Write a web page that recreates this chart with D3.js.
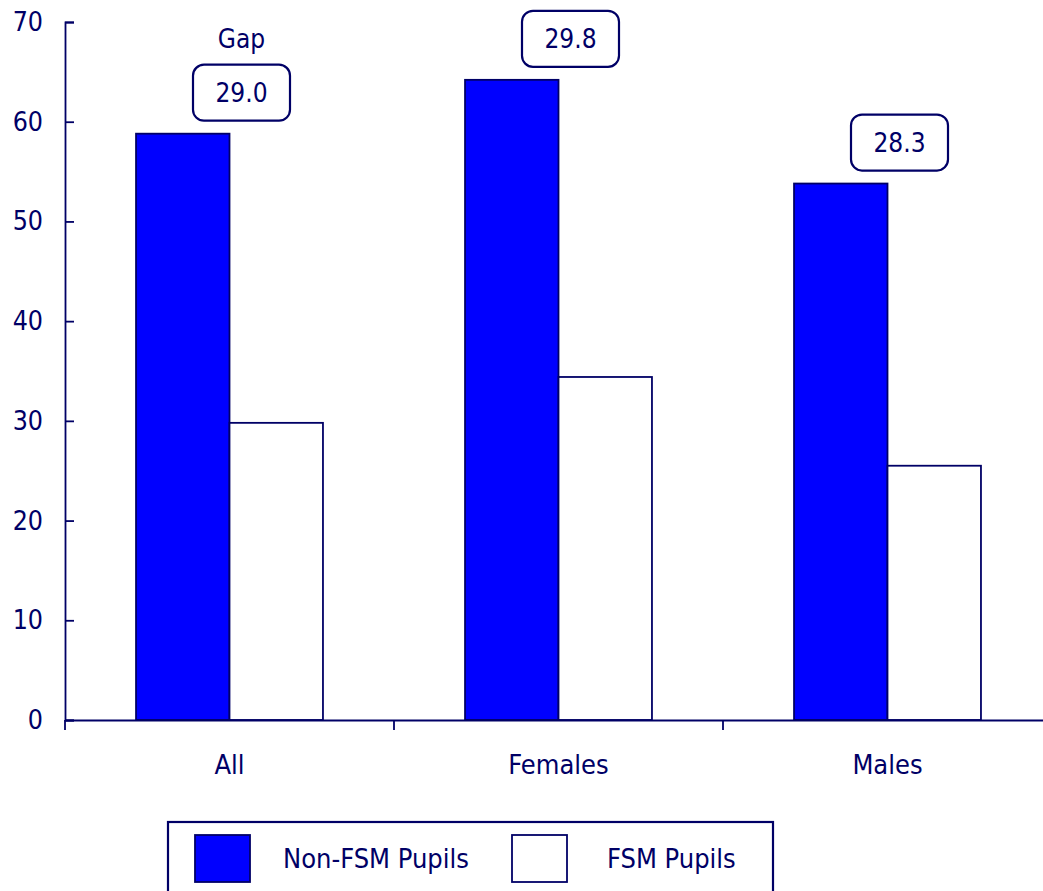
<!DOCTYPE html>
<html>
<head>
<meta charset="utf-8">
<script src="https://cdn.jsdelivr.net/npm/d3@7"></script>
<style>
html,body{margin:0;padding:0;background:#fff;}
svg{display:block;}
text{font-family:"DejaVu Sans Condensed","DejaVu Sans",sans-serif;fill:#000066;}
</style>
</head>
<body>
<svg id="chart" width="1043" height="891"></svg>
<script>
const categories = ["All", "Females", "Males"];
const seriesNames = ["Non-FSM Pupils", "FSM Pupils"];
const nonFSM = [58.8, 64.2, 53.8];
const fsm = [29.8, 34.4, 25.5];
const gapLabels = ["29.0", "29.8", "28.3"];
const yTicks = [0, 10, 20, 30, 40, 50, 60, 70];

const navy = "#000066";
const fills = ["#0000ff", "#ffffff"];
const FONT = "DejaVu Sans Condensed";
const svg = d3.select("#chart");

const x0 = d3.scaleBand().domain(categories).range([65, 1052]).padding(0);
const x1 = d3.scaleBand().domain(seriesNames).range([0, x0.bandwidth()]).paddingInner(0).paddingOuter(0.76);
const y = d3.scaleLinear().domain([0, 70]).range([720, 22]);

const data = categories.map((c, i) => ({cat: c, vals: [nonFSM[i], fsm[i]], gap: gapLabels[i]}));

// bars
const g = svg.append("g");
data.forEach(d => {
  seriesNames.forEach((s, j) => {
    g.append("rect")
      .attr("x", x0(d.cat) + x1(s))
      .attr("y", y(d.vals[j]))
      .attr("width", x1.bandwidth())
      .attr("height", y(0) - y(d.vals[j]))
      .attr("fill", fills[j])
      .attr("stroke", navy)
      .attr("stroke-width", 1.8);
  });
});

// y axis
const yAxis = d3.axisLeft(y).tickValues(yTicks).tickSize(-9).tickPadding(22).tickFormat(d3.format("d"));
const ya = svg.append("g").attr("transform", "translate(65,0)").call(yAxis);
ya.select(".domain").attr("stroke", navy).attr("stroke-width", 1.8);
ya.selectAll(".tick line").attr("stroke", navy).attr("stroke-width", 1.8);
ya.selectAll(".tick text").attr("font-size", 26.5).attr("fill", navy).attr("font-family", FONT);

// x axis
const xAxis = d3.axisBottom(x0).tickSize(0).tickPadding(0);
const xa = svg.append("g").attr("transform", "translate(0,720)").call(xAxis);
xa.select(".domain").attr("stroke", navy).attr("stroke-width", 1.8);
xa.selectAll(".tick text").remove();
categories.concat(["__end"]).forEach(c => {
  const xp = c === "__end" ? x0.range()[1] : x0(c);
  xa.append("line").attr("x1", xp).attr("x2", xp).attr("y1", 0).attr("y2", 10)
    .attr("stroke", navy).attr("stroke-width", 1.8);
});
categories.forEach(c => {
  xa.append("text").attr("x", x0(c) + x0.bandwidth() / 2).attr("y", 53.5)
    .attr("text-anchor", "middle").attr("font-size", 27).text(c);
});

// gap boxes
const bw = 97, bh = 56;
data.forEach((d, i) => {
  const cx = x0(d.cat) + x0.bandwidth() / 2 + 12;
  const bottom = y(d.vals[0]) - 13;
  svg.append("rect").attr("x", cx - bw / 2).attr("y", bottom - bh)
    .attr("width", bw).attr("height", bh).attr("rx", 11).attr("ry", 11)
    .attr("fill", "#fff").attr("stroke", navy).attr("stroke-width", 2.2);
  svg.append("text").attr("x", cx).attr("y", bottom - bh / 2 + 9.5)
    .attr("text-anchor", "middle").attr("font-size", 26).text(d.gap);
  if (i === 0) {
    svg.append("text").attr("x", cx).attr("y", bottom - bh - 17)
      .attr("text-anchor", "middle").attr("font-size", 26).text("Gap");
  }
});

// legend
const lg = svg.append("g");
lg.append("rect").attr("x", 168).attr("y", 822).attr("width", 605).attr("height", 90)
  .attr("fill", "#fff").attr("stroke", navy).attr("stroke-width", 2.2);
const legendPos = [{sx: 195, tx: 283}, {sx: 512, tx: 607}];
seriesNames.forEach((s, j) => {
  lg.append("rect").attr("x", legendPos[j].sx).attr("y", 835).attr("width", 55).attr("height", 47)
    .attr("fill", fills[j]).attr("stroke", navy).attr("stroke-width", 1.8);
  lg.append("text").attr("x", legendPos[j].tx).attr("y", 867.5).attr("font-size", 27).text(s);
});
</script>
</body>
</html>
